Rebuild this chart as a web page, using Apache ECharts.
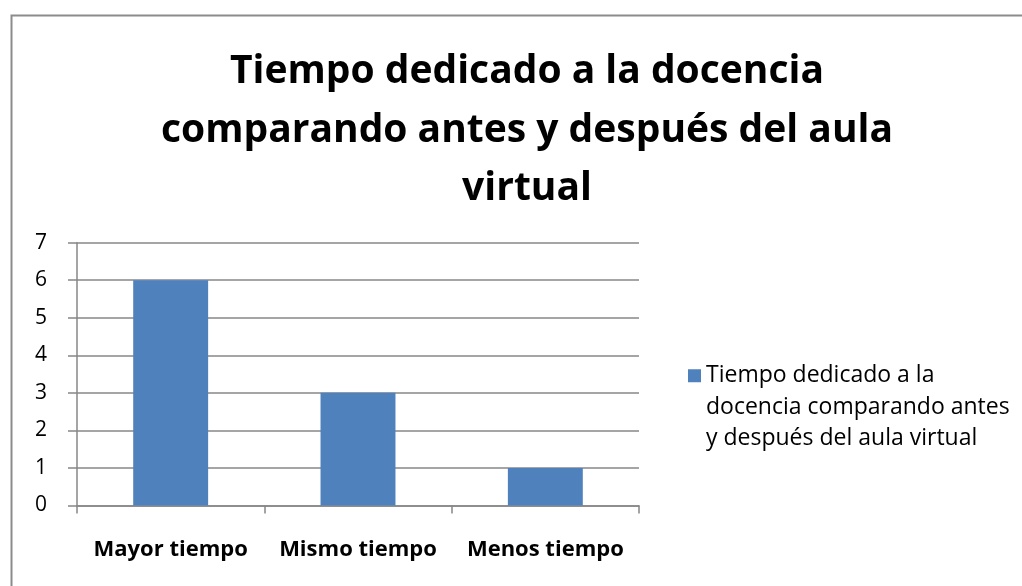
<!DOCTYPE html>
<html>
<head>
<meta charset="utf-8">
<script src="https://cdn.jsdelivr.net/npm/echarts@6/dist/echarts.min.js"></script>
<style>html,body{margin:0;padding:0;background:#fff}#c{width:1022px;height:586px}</style>
</head>
<body>
<div id="c"></div>
<script>
const titleText = 'Tiempo dedicado a la docencia\ncomparando antes y después del aula\nvirtual';
const categories = ['Mayor tiempo', 'Mismo tiempo', 'Menos tiempo'];
const seriesName = 'Tiempo dedicado a la docencia comparando antes y después del aula virtual';
const legendLines = ['Tiempo dedicado a la', 'docencia comparando antes', 'y después del aula virtual'];
const values = [6, 3, 1];
const yTicks = [0, 1, 2, 3, 4, 5, 6, 7];

const FONT = '"Open Sans", "Noto Sans", sans-serif';
const chart = echarts.init(document.getElementById('c'), null, {renderer: 'canvas'});
chart.setOption({
  backgroundColor: '#fff',
  animation: false,
  title: {
    text: titleText,
    left: 522, top: 38, textAlign: 'center',
    textStyle: {fontFamily: FONT, fontWeight: 'bold', fontSize: 39, lineHeight: 58.5, color: '#000'}
  },
  legend: {
    data: [seriesName],
    left: 683, top: 292,
    itemWidth: 13, itemHeight: 13, itemGap: 0,
    icon: 'rect',
    formatter: () => '\n\n' + legendLines.join('\n'),
    textStyle: {fontFamily: FONT, fontSize: 23, lineHeight: 31.5, color: '#000'}
  },
  grid: {left: 77, right: 383, top: 242.7, bottom: 80.5, containLabel: false},
  xAxis: {
    type: 'category', data: categories,
    axisLine: {lineStyle: {color: '#878787', width: 1.5}},
    axisTick: {show: true, length: 8, lineStyle: {color: '#878787', width: 1.5}},
    axisLabel: {fontFamily: FONT, fontWeight: 'bold', fontSize: 22, color: '#000', margin: 33,
      interval: 0, hideOverlap: false}
  },
  yAxis: {
    type: 'value', min: 0, max: 7, interval: 1,
    axisLine: {show: true, lineStyle: {color: '#878787', width: 1.5}},
    axisTick: {show: true, length: 9, lineStyle: {color: '#878787', width: 1.5}},
    splitLine: {lineStyle: {color: '#878787', width: 1.5}},
    axisLabel: {fontFamily: FONT, fontSize: 21, color: '#000', margin: 30,
      formatter: v => String(yTicks[v])}
  },
  series: [{
    name: seriesName, type: 'bar', data: values,
    barWidth: '40%', itemStyle: {color: '#4F81BD'}
  }],
  graphic: [{
    type: 'rect', left: 9, top: 13, silent: true,
    shape: {width: 1040, height: 600},
    style: {fill: 'none', stroke: '#8c8c8c', lineWidth: 2}
  }]
});
</script>
</body>
</html>
